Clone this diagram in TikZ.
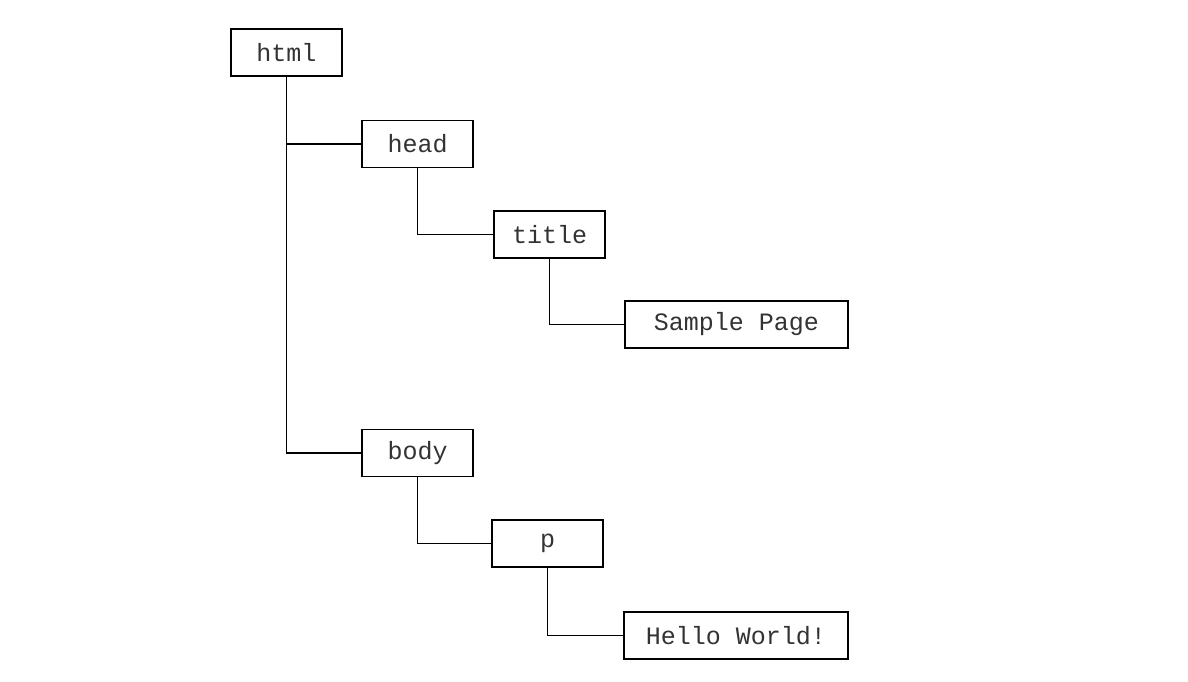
\documentclass[tikz,border=0pt]{standalone}
\usepackage{fontspec}
\setmonofont{Liberation Mono}
\begin{document}
\begin{tikzpicture}[x=1pt,y=-1pt,
  box/.style={draw,line width=1.5pt,minimum height=47pt,inner sep=0pt,font=\ttfamily\fontsize{25}{28}\selectfont,text=black!80},
  link/.style={line width=1.5pt}]
\useasboundingbox (0,0) rectangle (1188,682);
\node[box,minimum width=111pt] (html) at (286.5,52.5) {html};
\node[box,minimum width=111pt] (head) at (417.5,144) {head};
\node[box,minimum width=111pt] (title) at (549.5,234.5) {title};
\node[box,minimum width=223pt] (sample) at (736.5,324.5) {Sample Page};
\node[box,minimum width=111pt] (body) at (417.5,453) {body};
\node[box,minimum width=111pt] (p) at (547.5,543.5) {p};
\node[box,minimum width=224pt] (hello) at (736,635.5) {Hello World!};
\draw[link] (html.south) |- (body.west);
\draw[link] (html.south |- head.west) -- (head.west);
\draw[link] (head.south) |- (title.west);
\draw[link] (title.south) |- (sample.west);
\draw[link] (body.south) |- (p.west);
\draw[link] (p.south) |- (hello.west);
\end{tikzpicture}
\end{document}
